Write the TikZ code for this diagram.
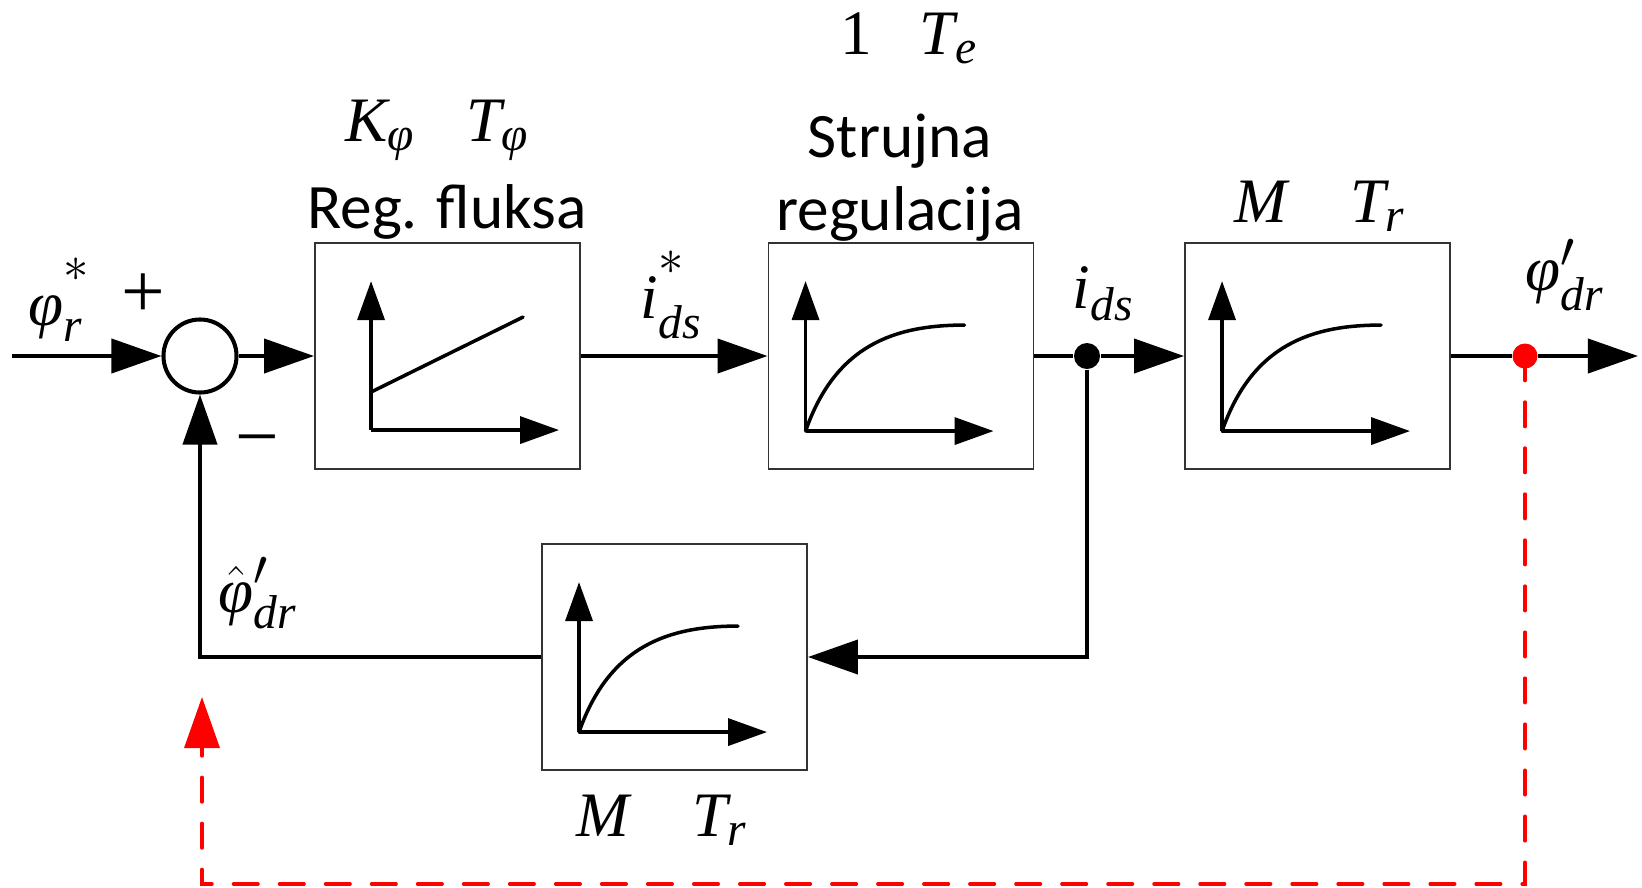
\documentclass[tikz,border=0pt]{standalone}
\usepackage{amsmath}
\usepackage{fontspec}
\setmainfont{Liberation Serif}
\newfontfamily\calibrifont{Carlito}
\usepackage{tikz}
\usetikzlibrary{arrows.meta,positioning,calc}
\DeclareMathSizes{18}{18}{13.5}{10}
\definecolor{sigred}{HTML}{FF0000}
\definecolor{boxgray}{HTML}{333333}
\tikzset{
  blockbox/.style={draw=boxgray,line width=0.5pt,minimum width=2.65cm,
                   minimum height=2.26cm,inner sep=0pt},
  sumcircle/.style={draw=black,circle,line width=1.15pt,minimum size=0.73cm,
                    inner sep=0pt},
  jdot/.style={circle,fill=black,minimum size=0.26cm,inner sep=0pt},
  rdot/.style={circle,fill=sigred,minimum size=0.25cm,inner sep=0pt},
  sigline/.style={line width=1.15pt,draw=black},
  sigarr/.style={sigline,-{Triangle[length=0.5cm,width=0.34cm]}},
  redarr/.style={-{Triangle[length=0.51cm,width=0.35cm]},line width=1pt,
                 draw=sigred,dash pattern=on 0.245cm off 0.215cm,line cap=round},
  axisarr/.style={-{Triangle[length=0.39cm,width=0.27cm]},line width=1pt},
  curvepath/.style={line width=1pt,line cap=round},
  lbl/.style={inner sep=0pt,anchor=base west,font=\fontsize{18}{21}\selectfont},
  sanslbl/.style={inner sep=0pt,anchor=base,
                  font=\calibrifont\fontsize{18}{21}\selectfont},
  signlbl/.style={inner sep=0pt,font=\fontsize{22}{26}\selectfont}
}
% raised star on a reference value
\newcommand{\refstar}{\smash{\raisebox{6pt}{$\scriptstyle *$}}}
% first order lag sketch inside a block
\newcommand{\lagplot}[1]{%
  \begin{scope}[shift={(#1.north west)}]
    \draw[axisarr] (38,189) -- (38,39);
    \draw[axisarr] (38,189) -- (226,189);
    \draw[curvepath] (38,189) .. controls (68,103) and (127,83) .. (197,83);
  \end{scope}}

\begin{document}
\begin{tikzpicture}[x=0.01cm,y=-0.01cm]
  \path[use as bounding box] (0,0) rectangle (1642,887);
  % blocks
  \node[sumcircle] (sum) at (200,356) {};
  \node[blockbox] (reg) at (447.5,356) {};
  \node[blockbox] (cur) at (901,356) {};
  \node[blockbox] (mot) at (1317.5,356) {};
  \node[blockbox] (est) at (674.5,657) {};
  \node[jdot] (jn) at (1087,356) {};
  \coordinate (inp) at (12,356);
  \coordinate (outp) at (1638,356);
  \coordinate (rbot) at (202,884);
  \coordinate (rtip) at (202,697);
  % graphs
  \begin{scope}[shift={(reg.north west)}]
    \draw[axisarr] (57,188) -- (57,39);
    \draw[axisarr] (57,188) -- (245,188);
    \draw[curvepath] (57,150) -- (209,75);
  \end{scope}
  \lagplot{cur}
  \lagplot{mot}
  \lagplot{est}
  % signals
  \draw[sigarr] (inp) -- (sum.west);
  \draw[sigarr] (sum.east) -- (reg.west);
  \draw[sigarr] (reg.east) -- (cur.west);
  \draw[sigline] (cur.east) -- (jn);
  \draw[sigarr] (jn) -- (mot.west);
  \draw[sigarr] (jn.south) |- (est.east);
  \draw[sigarr] (est.west) -| (sum.south);
  \draw[redarr] (1525,356) |- (rbot) -- (rtip);
  \node[rdot] (rd) at (1525,356) {};
  \draw[sigline] (mot.east) -- (rd);
  \draw[sigarr] (rd) -- (outp);
  % labels
  \node[lbl] (phiref) at (28,325) {$\textit{φ}_{\textit{r}}^{\refstar}$};
  \node[signlbl] (plus) at (143,296) {+};
  \node[signlbl] (minus) at (257,449) {−};
  \node[lbl] (istar) at (640,318) {$\textit{i}_{\textit{ds}}^{\refstar}$};
  \node[lbl] (ids) at (1072,308) {$\textit{i}_{\textit{ds}}$};
  \node[lbl] (phiout) at (1525,290) {$\textit{φ}'_{\textit{dr}}$};
  \node[lbl] (phiest) at (218,612) {$\hat{\textit{φ}}'_{\textit{dr}}$};
  \node[lbl] (tel) at (840,54) {1\hspace{0.75em}$\textit{T}_{\textit{e}}$};
  \node[lbl] (kphi) at (345,141)
    {$\textit{K}_{\textit{φ}}$\hspace{0.8em}$\textit{T}_{\textit{φ}}$};
  \node[sanslbl] (regname) at (447,228) {Reg. fluksa};
  \node[sanslbl] (curname) at (900,157) {Strujna};
  \node[sanslbl] (curname2) at (900,230) {regulacija};
  \node[lbl] (mtop) at (1234,222) {$\textit{M}$\hspace{1em}$\textit{T}_{\textit{r}}$};
  \node[lbl] (mbot) at (576,836) {$\textit{M}$\hspace{1em}$\textit{T}_{\textit{r}}$};
\end{tikzpicture}
\end{document}
